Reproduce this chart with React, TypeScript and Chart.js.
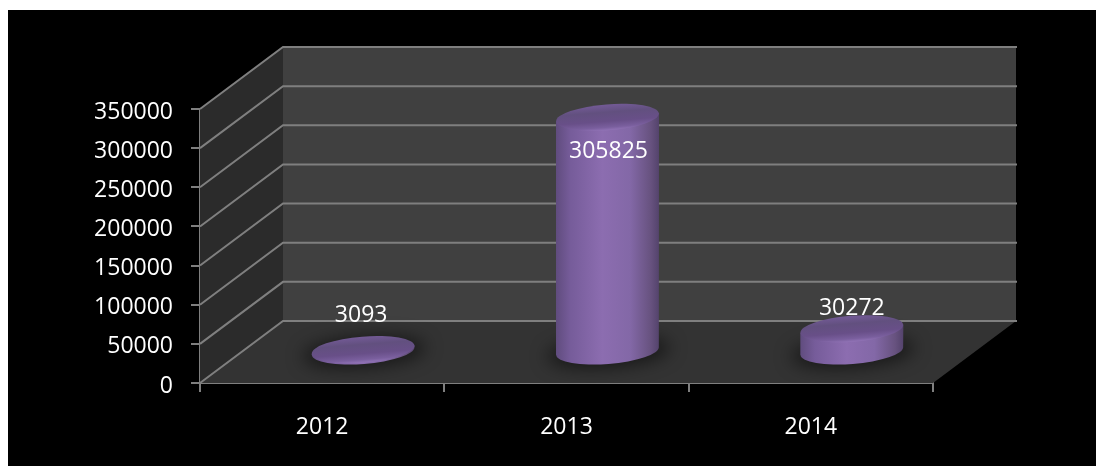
import React, { useEffect, useRef } from "react";
import { Chart, BarController, BarElement, CategoryScale, LinearScale } from "chart.js";

const years = ["2012", "2013", "2014"];
const visitors = [3093, 305825, 30272];
const yTicks = [0, 50000, 100000, 150000, 200000, 250000, 300000, 350000];

// Oblique projection of the plot box
const DEPTH_X = 83;
const DEPTH_Y = -62;
const FONT_FAMILY = "'Open Sans'";
const FONT_SIZE = 23;
const AXIS_GREY = "#7f7f7f";

// Cylinders stand halfway into the box and foreshorten slightly
const STAND_X = 41;
const STAND_Y = -31;
const FORESHORTEN = 0.98;
const CAP_RY = 13;
const TILT = (-4.5 * Math.PI) / 180;

class CylinderBar extends BarElement {
  static id = "cylinderBar";
  static defaults = BarElement.defaults;

  draw(ctx: CanvasRenderingContext2D) {
    const { x, y, base, width } = (this as any).getProps(["x", "y", "base", "width"]);
    const cx = x + STAND_X;
    const by = base + STAND_Y;
    const ty = by - (base - y) * FORESHORTEN;
    const rx = width / 2;
    const dy = Math.sin(TILT) * rx;

    ctx.save();

    // soft contact shadow on the floor
    ctx.save();
    ctx.filter = "blur(9px)";
    ctx.fillStyle = "rgba(0,0,0,0.55)";
    ctx.beginPath();
    ctx.ellipse(cx + 1, by + 1, rx + 10, CAP_RY + 2, TILT, 0, Math.PI * 2);
    ctx.fill();
    ctx.restore();

    // cylinder wall
    const wall = ctx.createLinearGradient(cx - rx, 0, cx + rx, 0);
    wall.addColorStop(0, "#604c7e");
    wall.addColorStop(0.14, "#765c9a");
    wall.addColorStop(0.45, "#8c6db0");
    wall.addColorStop(0.72, "#8368a7");
    wall.addColorStop(0.92, "#67527f");
    wall.addColorStop(1, "#54436c");
    ctx.fillStyle = wall;
    ctx.beginPath();
    ctx.moveTo(cx - rx, ty - dy);
    ctx.lineTo(cx - rx, by - dy);
    ctx.ellipse(cx, by, rx, CAP_RY, TILT, Math.PI, 0, true);
    ctx.lineTo(cx + rx, ty + dy);
    ctx.closePath();
    ctx.fill();

    // top cap with a bright front rim
    ctx.translate(cx, ty);
    ctx.rotate(TILT);
    const cap = ctx.createLinearGradient(0, -CAP_RY, 0, CAP_RY);
    cap.addColorStop(0, "#735a96");
    cap.addColorStop(0.3, "#62507f");
    cap.addColorStop(0.65, "#684f88");
    cap.addColorStop(0.88, "#7a5f9e");
    cap.addColorStop(1, "#9173b6");
    ctx.fillStyle = cap;
    ctx.beginPath();
    ctx.ellipse(0, 0, rx, CAP_RY, 0, 0, Math.PI * 2);
    ctx.fill();

    ctx.restore();
  }
}

class CylinderController extends BarController {
  static id = "cylinder";
  static defaults = { ...BarController.defaults, dataElementType: "cylinderBar" };
  static overrides = BarController.overrides;
}

// Draws the side wall, back wall, floor and their grid lines behind the marks
const plotBox = {
  id: "plotBox",
  beforeDatasetsDraw(chart: any) {
    const { ctx, chartArea: a, scales } = chart;
    const y = scales.y;
    const bx = DEPTH_X;
    const by = DEPTH_Y;
    ctx.save();

    ctx.fillStyle = "#404040";
    ctx.fillRect(a.left + bx, a.top + by, a.right - a.left, a.bottom - a.top);

    ctx.fillStyle = "#2b2b2b";
    ctx.beginPath();
    ctx.moveTo(a.left, a.top);
    ctx.lineTo(a.left + bx, a.top + by);
    ctx.lineTo(a.left + bx, a.bottom + by);
    ctx.lineTo(a.left, a.bottom);
    ctx.closePath();
    ctx.fill();

    ctx.fillStyle = "#333333";
    ctx.beginPath();
    ctx.moveTo(a.left, a.bottom);
    ctx.lineTo(a.right, a.bottom);
    ctx.lineTo(a.right + bx, a.bottom + by);
    ctx.lineTo(a.left + bx, a.bottom + by);
    ctx.closePath();
    ctx.fill();

    ctx.strokeStyle = AXIS_GREY;
    ctx.lineWidth = 2;
    for (const t of y.ticks) {
      const py = y.getPixelForValue(t.value);
      ctx.beginPath();
      ctx.moveTo(a.left, py);
      ctx.lineTo(a.left + bx, py + by);
      ctx.lineTo(a.right + bx + 1, py + by);
      ctx.stroke();
    }
    ctx.restore();
  },
};

// Value captions, placed relative to each cylinder's top
const valueCaptions = {
  id: "valueCaptions",
  afterDatasetsDraw(chart: any, _args: any, opts: any) {
    const { ctx } = chart;
    const meta = chart.getDatasetMeta(0);
    ctx.save();
    ctx.font = `${FONT_SIZE}px ${FONT_FAMILY}`;
    ctx.fillStyle = "#ffffff";
    ctx.textAlign = "center";
    ctx.textBaseline = "middle";
    meta.data.forEach((el: any, i: number) => {
      const value = chart.data.datasets[0].data[i];
      const [ox, oy] = opts.offsets[i];
      ctx.fillText(String(value), el.x + ox, el.y + oy);
    });
    ctx.restore();
  },
};

Chart.register(CylinderController, CylinderBar, CategoryScale, LinearScale);

export default function App() {
  const ref = useRef<HTMLCanvasElement>(null);

  useEffect(() => {
    const chart = new Chart(ref.current as HTMLCanvasElement, {
      type: "cylinder" as any,
      data: {
        labels: years,
        datasets: [{ label: "Total", data: visitors, barThickness: 103, clip: false } as any],
      },
      plugins: [plotBox, valueCaptions],
      options: {
        responsive: false,
        animation: false,
        events: [],
        layout: { padding: { left: 0, top: 99, right: 163, bottom: 0 } },
        scales: {
          x: {
            type: "category",
            afterFit(scale: any) {
              scale.height = 83;
            },
            border: { color: AXIS_GREY, width: 2 },
            grid: {
              color: AXIS_GREY,
              lineWidth: 2,
              offset: true,
              drawOnChartArea: false,
              tickColor: AXIS_GREY,
              tickLength: 9,
            },
            ticks: { color: "#ffffff", font: { family: FONT_FAMILY, size: FONT_SIZE }, padding: 22, maxRotation: 0 },
          },
          y: {
            type: "linear",
            min: yTicks[0],
            max: yTicks[yTicks.length - 1],
            afterFit(scale: any) {
              scale.width = 192;
            },
            afterBuildTicks(scale: any) {
              scale.ticks = yTicks.map((value) => ({ value }));
            },
            border: { color: AXIS_GREY, width: 2 },
            grid: {
              color: AXIS_GREY,
              lineWidth: 2,
              drawOnChartArea: false,
              tickColor: AXIS_GREY,
              tickLength: 9,
            },
            ticks: {
              color: "#ffffff",
              font: { family: FONT_FAMILY, size: FONT_SIZE },
              padding: 18,
              labelOffset: 3,
              callback: (v: any) => String(v),
            },
          },
        },
        plugins: {
          legend: { display: false },
          title: { display: false },
          tooltip: { enabled: false },
          valueCaptions: { offsets: [[39, -65], [42, 8], [41, -51]] },
        } as any,
      },
    });
    return () => chart.destroy();
  }, []);

  return (
    <div style={{ position: "fixed", left: 8, top: 10, width: 1088, height: 456, background: "#000" }}>
      <canvas ref={ref} width={1088} height={456} style={{ display: "block" }} />
    </div>
  );
}
